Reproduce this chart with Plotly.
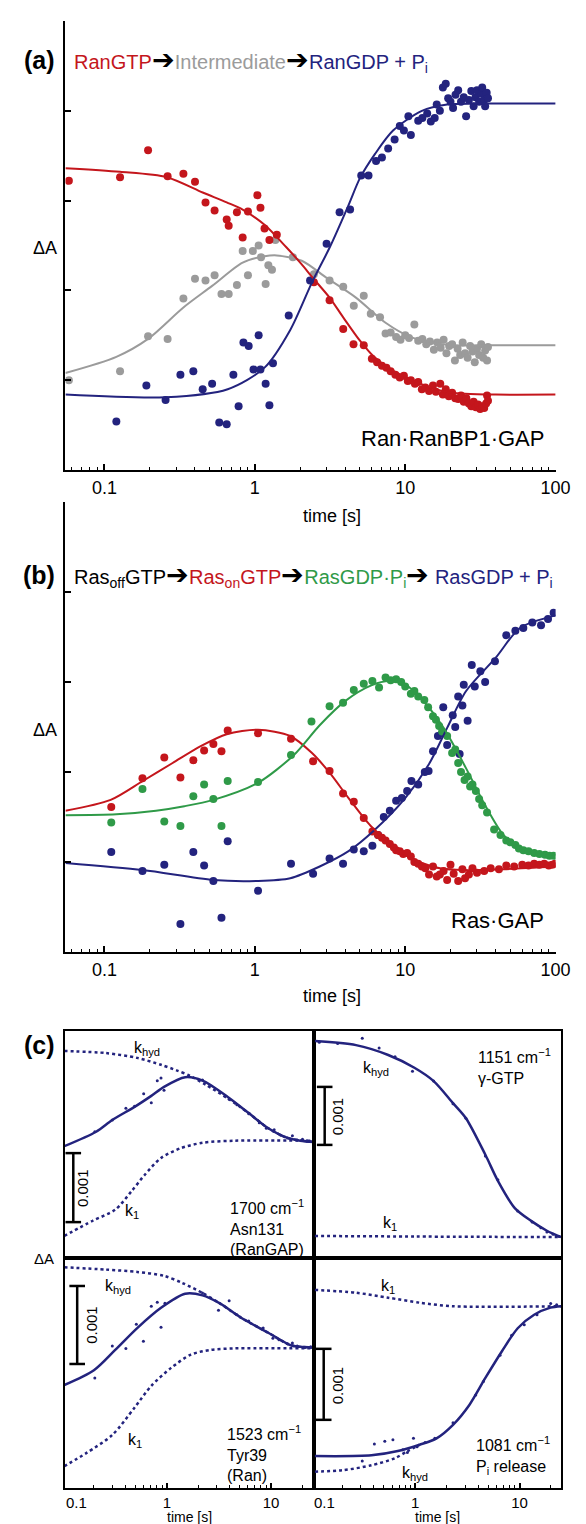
import plotly.graph_objects as go

W, H = 586, 1524
RED = "#c4161c"
GRAY = "#9b9b9b"
BLUE = "#23237e"
GREEN = "#2f9a48"
FONT = "Liberation Sans, Arial, sans-serif"

# ---------------- panel (a) : Ran.RanBP1.GAP ----------------
a_red_pts = [(0.058, 3.22), (0.127, 3.26), (0.195, 3.56), (0.263, 3.27), (0.335, 3.30), (0.40, 3.21),
             (0.47, 2.98), (0.54, 2.89), (0.65, 2.79), (0.67, 2.72), (0.76, 2.87), (0.83, 2.59),
             (0.90, 2.88), (1.04, 3.06), (1.09, 2.92), (1.16, 2.69), (1.25, 2.56), (1.40, 2.62),
             (2.47, 2.09), (3.14, 1.89), (3.87, 1.57), (4.53, 1.40), (5.3, 1.39), (6.0, 1.24),
             (6.5, 1.20), (7.0, 1.16), (7.5, 1.14), (8.0, 1.10), (8.6, 1.06), (9.2, 1.03), (9.8, 1.05),
             (10.4, 0.99), (10.9, 1.00), (11.6, 0.96), (12.2, 0.98), (12.9, 0.90), (13.6, 0.92),
             (14.4, 0.88), (15.3, 0.94), (16.0, 0.87), (17.1, 0.96), (17.8, 0.84), (18.6, 0.90),
             (19.5, 0.82), (20.5, 0.86), (21.5, 0.80), (22.5, 0.79), (23.5, 0.83), (24.5, 0.76),
             (25.5, 0.80), (26.5, 0.74), (27.5, 0.71), (28.5, 0.76), (29.5, 0.70), (30.5, 0.73),
             (31.5, 0.68), (32.5, 0.71), (33.5, 0.69), (34.5, 0.74), (35.0, 0.83), (35.5, 0.77)]
a_red_fit = [(0.055, 3.36), (0.127, 3.32), (0.26, 3.26), (0.45, 3.09), (0.65, 2.98), (0.83, 2.90),
             (1.16, 2.73), (1.62, 2.48), (2.05, 2.29), (2.4, 2.15), (3.14, 1.92), (3.87, 1.70),
             (5.0, 1.44), (6.2, 1.26), (8.2, 1.11), (10.9, 1.01), (14.5, 0.92), (19, 0.87),
             (25, 0.85), (40, 0.84), (100, 0.84)]

a_gray_pts = [(0.058, 1.00), (0.127, 1.10), (0.195, 1.49), (0.263, 1.46), (0.335, 1.91), (0.40, 2.13),
              (0.47, 2.11), (0.54, 2.17), (0.60, 1.96), (0.67, 1.96), (0.76, 2.06), (0.83, 2.44),
              (0.90, 2.17), (0.97, 2.44), (1.06, 2.50), (1.10, 2.37), (1.18, 2.07), (1.23, 2.28),
              (1.30, 2.23), (1.37, 2.56), (1.79, 2.37), (2.47, 2.18), (3.14, 2.11), (3.87, 2.04),
              (4.55, 1.83), (5.3, 1.94), (5.9, 1.74), (6.8, 1.70), (7.4, 1.52), (8.0, 1.53),
              (8.7, 1.48), (9.3, 1.45), (10.0, 1.50), (10.6, 1.47), (11.5, 1.62), (12.2, 1.44),
              (13.0, 1.46), (13.8, 1.40), (14.6, 1.43), (15.5, 1.34), (16.3, 1.42), (17.2, 1.36),
              (18.0, 1.45), (18.8, 1.30), (19.6, 1.38), (20.5, 1.40), (21.4, 1.22), (22.3, 1.35),
              (23.2, 1.28), (24.1, 1.42), (25.0, 1.30), (26.0, 1.25), (27.0, 1.38), (28.0, 1.32),
              (29.0, 1.20), (30.0, 1.35), (31.0, 1.28), (32.0, 1.40), (33.0, 1.25), (34.0, 1.33),
              (35.0, 1.22), (35.5, 1.37)]
a_gray_fit = [(0.055, 1.08), (0.12, 1.26), (0.195, 1.46), (0.335, 1.81), (0.52, 2.05), (0.83, 2.31),
              (1.16, 2.38), (1.4, 2.39), (2.05, 2.33), (3.0, 2.14), (4.7, 1.92), (7.4, 1.64),
              (10.9, 1.48), (15, 1.42), (21, 1.39), (40, 1.39), (100, 1.39)]

a_blue_pts = [(0.12, 0.54), (0.19, 0.94), (0.255, 0.78), (0.32, 1.06), (0.39, 1.10), (0.45, 0.90),
              (0.52, 0.96), (0.58, 0.53), (0.65, 0.51), (0.72, 1.06), (0.78, 0.71), (0.84, 1.42),
              (0.91, 1.38), (0.98, 1.12), (1.06, 1.50), (1.09, 1.12), (1.18, 0.96), (1.25, 0.72),
              (1.32, 1.19), (1.68, 1.72), (2.33, 2.11), (3.0, 2.52), (3.66, 2.87), (4.3, 2.90),
              (5.1, 3.28), (5.7, 3.28), (6.4, 3.44), (7.0, 3.48), (7.7, 3.58), (8.5, 3.68),
              (9.2, 3.83), (9.8, 3.78), (10.5, 3.94), (10.9, 3.73), (12.2, 3.89), (13.0, 3.92),
              (14.0, 3.97), (14.8, 3.88), (15.7, 3.92), (16.2, 4.07), (17.0, 4.00), (17.8, 4.26),
              (18.6, 4.30), (19.3, 4.14), (20.0, 4.10), (20.8, 4.03), (21.6, 4.18), (22.5, 4.23),
              (23.5, 4.10), (24.5, 4.15), (25.4, 3.94), (26.5, 4.12), (27.5, 4.22), (28.5, 4.05),
              (29.3, 4.15), (30.0, 4.23), (31.0, 4.10), (32.0, 4.19), (32.5, 4.26), (33.5, 4.12),
              (34.0, 4.05), (34.8, 4.20), (35.5, 4.14)]
a_blue_fit = [(0.055, 0.84), (0.255, 0.81), (0.66, 0.90), (1.16, 1.14), (1.72, 1.56), (2.4, 2.09),
              (3.15, 2.48), (4.2, 2.95), (5.0, 3.25), (6.3, 3.52), (8.3, 3.78), (12.9, 4.00),
              (19, 4.07), (30, 4.08), (100, 4.08)]

# ---------------- panel (b) : Ras.GAP ----------------
b_red_pts = [(0.111, 1.61), (0.179, 1.93), (0.25, 2.16), (0.32, 1.94), (0.39, 2.13), (0.46, 2.24),
             (0.53, 2.31), (0.60, 2.23), (0.66, 2.46), (1.05, 2.43), (1.74, 2.37), (2.44, 2.12),
             (3.14, 2.01), (3.86, 1.76), (4.55, 1.67), (5.3, 1.49), (6.05, 1.34), (6.6, 1.30),
             (7.0, 1.27), (7.4, 1.24), (7.9, 1.20), (8.4, 1.16), (8.7, 1.13), (9.2, 1.12),
             (9.7, 1.09), (10.3, 1.10), (10.9, 1.06), (11.5, 1.00), (12.2, 0.98), (12.9, 0.95),
             (13.6, 0.93), (14.4, 0.86), (15.3, 0.95), (16.2, 0.84), (17.0, 0.86), (18.0, 0.90),
             (19.0, 0.80), (20.0, 0.97), (21.0, 0.87), (22.5, 0.79), (24.0, 0.92), (25.0, 0.82),
             (26.5, 0.86), (28.0, 0.93), (30.0, 0.88), (33.5, 0.90), (37.0, 0.93), (42.0, 0.92),
             (47.0, 0.96), (53.0, 0.95), (60.0, 0.97), (66.0, 0.96), (72.0, 0.98), (78.0, 0.97),
             (84.0, 0.98), (90.0, 0.96), (95.0, 0.97), (99.0, 0.98)]
b_red_fit = [(0.055, 1.57), (0.11, 1.69), (0.18, 1.90), (0.284, 2.10), (0.44, 2.29), (0.65, 2.42),
             (1.05, 2.47), (1.72, 2.40), (2.4, 2.21), (3.15, 1.99), (4.2, 1.71), (5.9, 1.40),
             (8.6, 1.16), (10.9, 1.04), (17, 0.93), (25, 0.91), (45, 0.92), (100, 0.95)]

b_green_pts = [(0.111, 1.44), (0.179, 1.81), (0.25, 1.45), (0.32, 1.40), (0.39, 1.73), (0.46, 1.86),
               (0.53, 1.70), (0.60, 1.40), (0.66, 1.90), (1.05, 1.89), (1.74, 2.19), (2.38, 2.56),
               (3.14, 2.73), (3.86, 2.77), (4.55, 2.91), (5.3, 2.98), (6.05, 3.01), (6.7, 2.94),
               (7.4, 3.05), (8.0, 3.02), (8.7, 3.03), (9.4, 3.00), (10.0, 2.95), (10.9, 2.87),
               (11.5, 2.90), (12.2, 2.84), (13.4, 2.80), (14.2, 2.72), (15.3, 2.62), (16.0, 2.58),
               (16.8, 2.51), (17.6, 2.45), (19.0, 2.40), (20.5, 2.21), (21.5, 2.25), (22.5, 2.10),
               (23.5, 2.00), (24.8, 1.91), (26.0, 1.95), (27.0, 1.84), (28.0, 1.86), (29.5, 1.79),
               (31.0, 1.70), (32.5, 1.63), (35.0, 1.55), (39.0, 1.36), (43.0, 1.30), (47.0, 1.24),
               (50.0, 1.22), (54.0, 1.19), (57.0, 1.15), (61.0, 1.13), (66.0, 1.12), (72.0, 1.10),
               (78.0, 1.09), (85.0, 1.08), (91.0, 1.07), (97.0, 1.07)]
b_green_fit = [(0.055, 1.52), (0.12, 1.53), (0.22, 1.57), (0.34, 1.62), (0.53, 1.69), (1.05, 1.88),
               (1.82, 2.19), (2.7, 2.52), (4.0, 2.79), (5.9, 2.96), (7.9, 3.01), (10, 2.97),
               (13, 2.80), (18, 2.49), (25.4, 2.04), (34, 1.63), (45, 1.30), (58, 1.16), (100, 1.08)]

b_blue_pts = [(0.111, 1.11), (0.179, 0.90), (0.25, 0.97), (0.32, 0.31), (0.39, 1.11), (0.46, 0.96),
              (0.53, 0.79), (0.60, 0.38), (0.66, 1.23), (1.05, 0.68), (1.74, 0.98), (2.44, 0.87),
              (3.14, 1.04), (3.86, 0.98), (4.55, 1.14), (5.3, 1.12), (6.05, 1.18), (6.6, 1.30),
              (7.2, 1.50), (7.9, 1.57), (8.7, 1.68), (9.5, 1.71), (10.3, 1.79), (11.0, 1.90),
              (12.2, 1.86), (13.5, 2.00), (14.3, 2.01), (15.3, 2.23), (16.5, 2.40), (17.6, 2.43),
              (17.9, 2.72), (19.0, 2.30), (20.7, 2.63), (21.5, 2.50), (22.5, 2.84), (23.0, 2.20),
              (24.0, 2.74), (24.5, 2.97), (26.0, 2.57), (27.7, 3.19), (29.0, 2.95), (31.6, 3.12),
              (34.0, 3.00), (39.5, 3.23), (47.0, 3.52), (54.0, 3.57), (61.0, 3.60), (70.0, 3.66),
              (80.0, 3.63), (89.0, 3.70), (97.0, 3.77)]
b_blue_fit = [(0.055, 0.99), (0.18, 0.91), (0.53, 0.80), (1.05, 0.79), (1.72, 0.82), (2.7, 0.95),
              (4.2, 1.12), (6.2, 1.35), (10, 1.71), (14.3, 2.08), (19, 2.49), (25.4, 2.90),
              (40, 3.27), (58, 3.60), (100, 3.74)]

# ---------------- panel (c) : IR difference bands (units of 0.001 dA) ----------------
c_tl_pts = [(0.204, 1.83), (0.30, 2.00), (0.405, 2.17), (0.49, 2.20), (0.60, 2.38), (0.71, 2.25),
            (0.81, 2.57), (0.88, 2.61), (0.94, 2.43), (2.2, 2.58), (3.96, 2.30), (4.7, 2.22),
            (6.1, 2.09), (7.7, 1.96), (9.0, 1.88), (10.7, 1.86), (12.4, 1.78), (14.4, 1.74),
            (16.0, 1.77), (17.8, 1.71), (20.0, 1.72), (22.0, 1.70), (24.0, 1.69)]
c_tl_fit = [(0.104, 1.62), (0.21, 1.83), (0.30, 2.00), (0.49, 2.19), (0.71, 2.35), (0.94, 2.48),
            (1.5, 2.62), (2.2, 2.57), (3.96, 2.32), (6.1, 2.10), (9.4, 1.88), (14.4, 1.74),
            (19, 1.70), (25.7, 1.68)]
c_tl_khyd = [(0.104, 3.00), (0.26, 2.97), (0.52, 2.90), (0.88, 2.80), (1.24, 2.72), (1.67, 2.64),
             (2.37, 2.51), (3.96, 2.30), (6.1, 2.10), (9.4, 1.88), (14.4, 1.74), (25.7, 1.68)]
c_tl_k1 = [(0.104, 0.32), (0.195, 0.54), (0.32, 0.70), (0.46, 0.97), (0.61, 1.20), (0.88, 1.45),
           (1.35, 1.59), (2.2, 1.67), (4.5, 1.70), (25.7, 1.70)]

c_tr_pts = [(0.12, 3.72), (0.18, 3.70), (0.31, 3.79), (0.45, 3.62), (0.64, 3.47), (0.94, 3.22),
            (1.5, 3.05), (2.3, 2.66), (3.06, 2.41), (4.7, 1.76), (6.2, 1.35), (9.6, 0.81),
            (13.2, 0.62), (16.0, 0.52), (18.3, 0.45), (21.0, 0.41), (24.0, 0.37)]
c_tr_fit = [(0.109, 3.74), (0.27, 3.67), (0.55, 3.50), (0.98, 3.28), (1.5, 3.05), (2.3, 2.67),
            (3.06, 2.41), (4.7, 1.78), (6.2, 1.33), (9.0, 0.86), (12.9, 0.64), (18.3, 0.47),
            (25, 0.36)]
c_tr_k1 = [(0.109, 0.38), (1.0, 0.37), (25, 0.36)]

c_bl_pts = [(0.204, 1.41), (0.30, 1.82), (0.405, 1.79), (0.51, 2.10), (0.596, 1.88), (0.71, 2.33),
            (0.81, 2.38), (0.88, 2.06), (0.96, 2.37), (2.2, 2.50), (3.13, 2.28), (3.96, 2.40),
            (4.7, 2.22), (6.1, 2.14), (8.4, 2.05), (10.4, 1.92), (11.9, 1.90), (14.4, 1.85),
            (16.0, 1.86), (17.8, 1.82), (21.0, 1.80), (24.0, 1.81)]
c_bl_fit = [(0.104, 1.32), (0.2, 1.51), (0.32, 1.77), (0.52, 2.05), (0.88, 2.31), (1.5, 2.49),
            (2.2, 2.47), (3.2, 2.37), (5.2, 2.18), (9.4, 1.99), (15.4, 1.83), (19, 1.81),
            (25.7, 1.80)]
c_bl_khyd = [(0.104, 2.83), (0.26, 2.80), (0.52, 2.77), (0.94, 2.72), (1.4, 2.63), (2.2, 2.50),
             (3.2, 2.37), (5.2, 2.18), (9.4, 1.99), (15.4, 1.83), (25.7, 1.80)]
c_bl_k1 = [(0.104, 0.28), (0.17, 0.45), (0.30, 0.68), (0.49, 1.03), (0.71, 1.31), (1.1, 1.54),
           (1.7, 1.71), (2.6, 1.77), (4.5, 1.79), (25.7, 1.79)]

c_br_pts = [(0.31, 0.38), (0.405, 0.62), (0.51, 0.66), (0.61, 0.68), (0.76, 0.54), (0.84, 0.50),
            (0.96, 0.70), (1.04, 0.58), (1.24, 0.64), (1.54, 0.70), (2.3, 0.92), (3.8, 1.31),
            (4.5, 1.50), (6.5, 1.87), (8.4, 2.15), (11.1, 2.30), (14.7, 2.44), (19.9, 2.60),
            (22.7, 2.58)]
c_br_fit = [(0.109, 0.45), (0.38, 0.46), (0.68, 0.52), (1.1, 0.61), (1.6, 0.70), (2.3, 0.89),
            (3.3, 1.17), (4.7, 1.55), (6.8, 1.93), (9.6, 2.25), (13.8, 2.44), (19.8, 2.54),
            (25, 2.56)]
c_br_k1 = [(0.109, 2.79), (0.27, 2.75), (0.55, 2.68), (1.1, 2.61), (2.3, 2.56), (25, 2.56)]
c_br_khyd = [(0.109, 0.23), (0.2, 0.25), (0.38, 0.32), (0.64, 0.42), (0.84, 0.52), (1.1, 0.61)]

log_ticks_ab = [0.1, 1, 10, 100]
log_ticks_c = [1, 10]


def unzip(pairs):
    return [p[0] for p in pairs], [p[1] for p in pairs]


def dots(pairs, color, ax, size=8):
    t, v = unzip(pairs)
    return go.Scatter(x=t, y=v, mode="markers", xaxis="x" + ax, yaxis="y" + ax,
                      marker=dict(color=color, size=size, line=dict(width=0)), showlegend=False)


def curve(pairs, color, ax, width=2, dash="solid"):
    t, v = unzip(pairs)
    return go.Scatter(x=t, y=v, mode="lines", xaxis="x" + ax, yaxis="y" + ax,
                      line=dict(color=color, width=width, dash=dash, shape="spline", smoothing=0.8),
                      showlegend=False)


fig = go.Figure()
# (a)
fig.add_trace(dots(a_gray_pts, GRAY, ""))
fig.add_trace(dots(a_red_pts, RED, ""))
fig.add_trace(dots(a_blue_pts, BLUE, ""))
fig.add_trace(curve(a_gray_fit, GRAY, ""))
fig.add_trace(curve(a_red_fit, RED, ""))
fig.add_trace(curve(a_blue_fit, BLUE, ""))
# (b)
fig.add_trace(dots(b_blue_pts, BLUE, "2"))
fig.add_trace(dots(b_red_pts, RED, "2"))
fig.add_trace(dots(b_green_pts, GREEN, "2"))
fig.add_trace(curve(b_blue_fit, BLUE, "2"))
fig.add_trace(curve(b_red_fit, RED, "2"))
fig.add_trace(curve(b_green_fit, GREEN, "2"))
# (c)
for ax, pts, fit, dotted in [("3", c_tl_pts, c_tl_fit, [c_tl_khyd, c_tl_k1]),
                             ("4", c_tr_pts, c_tr_fit, [c_tr_k1]),
                             ("5", c_bl_pts, c_bl_fit, [c_bl_khyd, c_bl_k1]),
                             ("6", c_br_pts, c_br_fit, [c_br_k1, c_br_khyd])]:
    for d in dotted:
        fig.add_trace(curve(d, BLUE, ax, width=2.5, dash="dot"))
    fig.add_trace(curve(fit, BLUE, ax, width=2.5))
    fig.add_trace(dots(pts, BLUE, ax, size=3))


def dom_x(x0, x1):
    return [x0 / W, x1 / W]


def dom_y(top, bottom):
    return [1 - bottom / H, 1 - top / H]


minor_ab = [m * d for d in (0.01, 0.1, 1, 10) for m in range(2, 10) if 0.055 < m * d < 100]
minor_c = [m * d for d in (0.1, 1, 10) for m in range(2, 10) if m * d < 25]

ab_x = dict(type="log", range=[-1.259, 2.0], showline=True, linewidth=2, linecolor="black",
            ticks="inside", ticklen=6, tickwidth=1.5, tickcolor="black",
            tickvals=log_ticks_ab, ticktext=["0.1", "1", "10", "100"],
            tickfont=dict(size=18, color="black", family=FONT), ticklabelstandoff=0,
            minor=dict(ticks="inside", ticklen=3, tickwidth=1, tickcolor="black", tickvals=minor_ab),
            showgrid=False, zeroline=False)
ab_y = dict(range=[0, 5], showline=True, linewidth=2, linecolor="black",
            ticks="inside", ticklen=6, tickwidth=1.5, tickcolor="black",
            tickvals=[1, 2, 3, 4], showticklabels=False, showgrid=False, zeroline=False)

c_common = dict(showline=True, mirror=True, linewidth=2, linecolor="black",
                showgrid=False, zeroline=False)
c_xl = dict(type="log", range=[-0.981, 1.411])
c_xr = dict(type="log", range=[-0.972, 1.402])
c_xbottom = dict(ticks="inside", ticklen=5, tickwidth=1.5, tickcolor="black",
                 tickvals=log_ticks_c, ticktext=["1", "10"],
                 tickfont=dict(size=15, color="black", family=FONT), ticklabelstandoff=0,
                 minor=dict(ticks="inside", ticklen=3, tickwidth=1, tickcolor="black",
                            tickvals=minor_c))
c_xtop = dict(ticks="", showticklabels=False)
c_y = dict(ticks="", showticklabels=False)

fig.update_layout(
    width=W, height=H, margin=dict(l=0, r=0, t=0, b=0),
    paper_bgcolor="white", plot_bgcolor="white",
    font=dict(family=FONT, color="black"),
    xaxis=dict(ab_x, domain=dom_x(59, 562), anchor="y"),
    yaxis=dict(ab_y, domain=dom_y(13, 462), anchor="x"),
    xaxis2=dict(ab_x, domain=dom_x(59, 562), anchor="y2"),
    yaxis2=dict(ab_y, domain=dom_y(494, 944), anchor="x2"),
    xaxis3=dict(c_common, **c_xl, **c_xtop, domain=dom_x(58, 314), anchor="y3"),
    yaxis3=dict(c_common, **c_y, range=[0, 227 / 69], domain=dom_y(1023, 1250), anchor="x3"),
    xaxis4=dict(c_common, **c_xr, **c_xtop, domain=dom_x(314, 568), anchor="y4"),
    yaxis4=dict(c_common, **c_y, range=[0, 227 / 58], domain=dom_y(1023, 1250), anchor="x4"),
    xaxis5=dict(c_common, **c_xl, **c_xbottom, domain=dom_x(58, 314), anchor="y5"),
    yaxis5=dict(c_common, **c_y, range=[0, 230 / 78], domain=dom_y(1250, 1480), anchor="x5"),
    xaxis6=dict(c_common, **c_xr, **c_xbottom, domain=dom_x(314, 568), anchor="y6"),
    yaxis6=dict(c_common, **c_y, range=[0, 230 / 71], domain=dom_y(1250, 1480), anchor="x6"),
)


def label(text, x, y, size, color="black", xanchor="center", angle=0):
    return dict(text=text, x=x / W, y=1 - y / H, xref="paper", yref="paper", showarrow=False,
                xanchor=xanchor, yanchor="middle", textangle=angle,
                align=xanchor if xanchor != "center" else "center",
                font=dict(size=size, color=color, family=FONT))


def span(text, color):
    return f'<span style="color:{color}">{text}</span>'


ARROW = '<span style="color:black;font-size:27px">➔</span>'
head_a = ARROW.join([span("RanGTP", RED), span("Intermediate", GRAY),
                     span("RanGDP + P<sub>i</sub>", BLUE)])
head_b = ARROW.join([span("Ras<sub>off</sub>GTP", "black"), span("Ras<sub>on</sub>GTP", RED),
                     span("RasGDP·P<sub>i</sub>", GREEN), span(" RasGDP + P<sub>i</sub>", BLUE)])

anns = [
    # (a)
    label("<b>(a)</b>", 32, 52, 25),
    label(head_a, 66, 52, 20, "black", "left"),
    label("ΔA", 38, 240, 18),
    label("Ran·RanBP1·GAP", 552, 430, 22, "black", "right"),
    label("time [s]", 333, 508, 18),
    # (b)
    label("<b>(b)</b>", 32, 567, 25),
    label(head_b, 66, 567, 20, "black", "left"),
    label("ΔA", 38, 722, 18),
    label("Ras·GAP", 552, 912, 22, "black", "right"),
    label("time [s]", 333, 988, 18),
    # (c)
    label("<b>(c)</b>", 32, 1037, 25),
    label("ΔA", 37, 1250, 15),
    label("k<sub>hyd</sub>", 143, 1040, 16),
    label("k<sub>1</sub>", 127, 1203, 16),
    label("1700 cm<sup>−1</sup><br>Asn131<br>(RanGAP)", 226, 1219, 16, "black", "left"),
    label("k<sub>hyd</sub>", 378, 1060, 16),
    label("k<sub>1</sub>", 392, 1215, 16),
    label("1151 cm<sup>−1</sup><br>γ-GTP", 480, 1058, 16, "black", "left"),
    label("k<sub>hyd</sub>", 113, 1278, 16),
    label("k<sub>1</sub>", 130, 1432, 16),
    label("1523 cm<sup>−1</sup><br>Tyr39<br>(Ran)", 223, 1445, 16, "black", "left"),
    label("k<sub>1</sub>", 390, 1278, 16),
    label("k<sub>hyd</sub>", 418, 1465, 16),
    label("1081 cm<sup>−1</sup><br>P<sub>i</sub> release", 478, 1447, 16, "black", "left"),
    label("0.1", 70, 1494, 15),
    label("0.1", 325, 1494, 15),
    label("time [s]", 186, 1509, 14),
    label("time [s]", 441, 1509, 14),
    label("0.001", 76, 1180, 15, angle=-90),
    label("0.001", 338, 1108, 15, angle=-90),
    label("0.001", 85, 1317, 15, angle=-90),
    label("0.001", 338, 1377, 15, angle=-90),
]
fig.update_layout(annotations=anns)

# 0.001 scale bars, drawn in each panel's y units (1 unit = 0.001)
shapes = []
for ax, xc, base in [("3", 67, 0.52), ("4", 325, 1.95), ("5", 71, 1.59), ("6", 324, 0.96)]:
    line = dict(color="black", width=2.5)
    shapes.append(dict(type="line", xref="paper", yref="y" + ax, x0=xc / W, x1=xc / W,
                       y0=base, y1=base + 1, line=line))
    for yy in (base, base + 1):
        shapes.append(dict(type="line", xref="paper", yref="y" + ax, x0=(xc - 8) / W,
                           x1=(xc + 8) / W, y0=yy, y1=yy, line=line))
fig.update_layout(shapes=shapes)

fig.write_html("out.html")
